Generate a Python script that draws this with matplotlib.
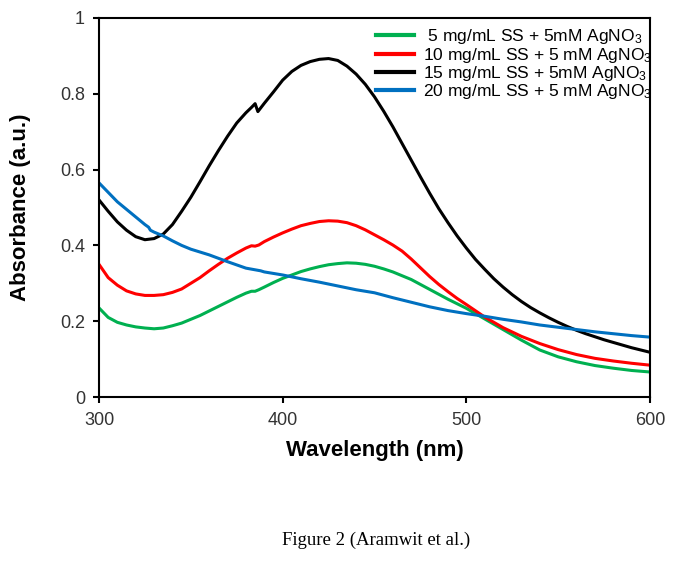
import matplotlib
matplotlib.use("Agg")
import matplotlib.pyplot as plt

plt.rcParams['font.family'] = ['Liberation Sans', 'DejaVu Sans']
plt.rcParams['mathtext.fontset'] = 'custom'
plt.rcParams['mathtext.rm'] = 'Liberation Sans'
plt.rcParams['mathtext.it'] = 'Liberation Sans:italic'
plt.rcParams['mathtext.bf'] = 'Liberation Sans:bold'

# ---- data ----
wl_black = [300, 305, 310, 315, 320, 325, 330, 335, 340, 345, 350, 355, 360, 365, 370, 375, 380,
            383, 385, 386.5, 390, 395, 400, 405, 410, 415, 420, 425, 430, 435, 440, 445, 450,
            455, 460, 465, 470, 475, 480, 485, 490, 495, 500, 505, 510, 515, 520, 525, 530, 535,
            540, 545, 550, 555, 560, 565, 570, 575, 580, 585, 590, 595, 600]
abs_black = [0.52, 0.49, 0.462, 0.44, 0.423, 0.415, 0.418, 0.43, 0.455, 0.49, 0.527, 0.568,
             0.61, 0.65, 0.688, 0.723, 0.75, 0.764, 0.774, 0.753, 0.775, 0.805, 0.836, 0.859,
             0.875, 0.885, 0.891, 0.893, 0.888, 0.873, 0.852, 0.825, 0.792, 0.754, 0.713, 0.669,
             0.625, 0.581, 0.538, 0.497, 0.46, 0.425, 0.393, 0.363, 0.337, 0.312, 0.29, 0.27,
             0.252, 0.236, 0.222, 0.209, 0.197, 0.186, 0.176, 0.167, 0.159, 0.151, 0.144, 0.137,
             0.13, 0.124, 0.118]

wl_red = [300, 305, 310, 315, 320, 325, 330, 335, 340, 345, 350, 355, 360, 365, 370, 375, 380,
          383, 385, 387, 390, 395, 400, 405, 410, 415, 420, 425, 430, 435, 440, 445, 450, 455,
          460, 465, 470, 475, 480, 485, 490, 495, 500, 510, 520, 530, 540, 550, 560, 570, 580,
          590, 600]
abs_red = [0.35, 0.315, 0.295, 0.28, 0.272, 0.268, 0.268, 0.27, 0.276, 0.285, 0.30, 0.315, 0.333,
           0.35, 0.366, 0.38, 0.393, 0.399, 0.398, 0.401, 0.41, 0.422, 0.433, 0.443, 0.452,
           0.458, 0.463, 0.465, 0.464, 0.46, 0.452, 0.441, 0.428, 0.415, 0.401, 0.385, 0.364,
           0.341, 0.318, 0.297, 0.278, 0.26, 0.244, 0.211, 0.183, 0.16, 0.141, 0.125, 0.112,
           0.102, 0.095, 0.089, 0.084]

wl_green = [300, 305, 310, 315, 320, 325, 330, 335, 340, 345, 350, 355, 360, 365, 370, 375, 380,
            383, 385, 387, 390, 395, 400, 405, 410, 415, 420, 425, 430, 435, 440, 445, 450, 455,
            460, 470, 480, 490, 500, 510, 520, 530, 540, 550, 560, 570, 580, 590, 600]
abs_green = [0.235, 0.21, 0.197, 0.19, 0.185, 0.182, 0.18, 0.182, 0.188, 0.195, 0.205, 0.215,
             0.227, 0.239, 0.251, 0.263, 0.274, 0.279, 0.279, 0.283, 0.29, 0.302, 0.313, 0.322,
             0.331, 0.338, 0.344, 0.349, 0.352, 0.354, 0.353, 0.35, 0.345, 0.338, 0.33, 0.31,
             0.284, 0.258, 0.234, 0.206, 0.178, 0.15, 0.124, 0.106, 0.093, 0.083, 0.076, 0.07,
             0.066]

wl_blue = [300, 305, 310, 315, 320, 325, 327, 328, 330, 335, 340, 345, 350, 360, 370, 380, 388,
           390, 400, 410, 420, 430, 440, 450, 460, 470, 480, 490, 500, 510, 520, 530, 540, 550,
           560, 570, 580, 590, 600]
abs_blue = [0.565, 0.54, 0.515, 0.495, 0.475, 0.455, 0.448, 0.44, 0.435, 0.425, 0.412, 0.40,
            0.39, 0.375, 0.357, 0.34, 0.333, 0.33, 0.322, 0.312, 0.303, 0.293, 0.283, 0.275,
            0.262, 0.25, 0.238, 0.228, 0.22, 0.213, 0.205, 0.198, 0.19, 0.184, 0.178, 0.172,
            0.167, 0.162, 0.158]

labels = [" 5 mg/mL SS + 5mM AgNO$_\\mathregular{3}$",
          "10 mg/mL SS + 5 mM AgNO$_\\mathregular{3}$",
          "15 mg/mL SS + 5mM AgNO$_\\mathregular{3}$",
          "20 mg/mL SS + 5 mM AgNO$_\\mathregular{3}$"]
x_ticks = [300, 400, 500, 600]
y_ticks = [0, 0.2, 0.4, 0.6, 0.8, 1]
y_ticklabels = ["0", "0.2", "0.4", "0.6", "0.8", "1"]

fig = plt.figure(figsize=(6.85, 5.63), dpi=100)
ax = fig.add_axes([99/685, 1-397/563, (650-99)/685, (397-18)/563])

lw = 2.2
ax.plot(wl_green, abs_green, color='#00B050', lw=lw, label=labels[0])
ax.plot(wl_red, abs_red, color='#FF0000', lw=lw, label=labels[1])
ax.plot(wl_black, abs_black, color='black', lw=lw, label=labels[2])
ax.plot(wl_blue, abs_blue, color='#0070C0', lw=lw, label=labels[3])

ax.set_xlim(300, 600)
ax.set_ylim(0, 1)
ax.set_xticks(x_ticks)
ax.set_yticks(y_ticks)
ax.set_yticklabels(y_ticklabels)
for s in ax.spines.values():
    s.set_linewidth(1.5)
ax.tick_params(direction='out', length=4, width=1.5, labelsize=13, colors='black',
               labelcolor='#333333')
ax.tick_params(axis='x', pad=7)
ax.tick_params(axis='y', pad=6)

ax.set_xlabel("Wavelength (nm)", fontsize=16, fontweight='bold')
ax.set_ylabel("Absorbance (a.u.)", fontsize=16, fontweight='bold')
ax.xaxis.set_label_coords(0.5, (397-440)/379)
ax.yaxis.set_label_coords((31-99)/551, 0.5)

leg = ax.legend(loc='upper left', bbox_to_anchor=(0.503, 0.975), frameon=False,
                fontsize=12.5, handlelength=2.2, handletextpad=0.5, labelspacing=-0.05,
                borderpad=0, borderaxespad=0)
for line in leg.get_lines():
    line.set_linewidth(3)

fig.text(376/685, 1-540/563, "Figure 2 (Aramwit et al.)", ha='center', va='center',
         fontsize=13.5, family='Liberation Serif')

fig.savefig("out.png", dpi=100)
